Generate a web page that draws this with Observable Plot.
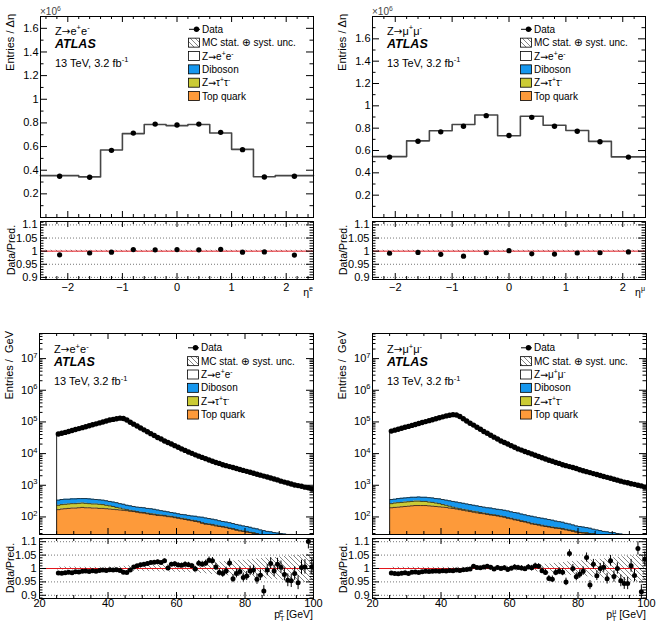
<!DOCTYPE html>
<html>
<head>
<meta charset="utf-8">
<script src="https://cdn.jsdelivr.net/npm/d3@7"></script>
<script src="https://cdn.jsdelivr.net/npm/@observablehq/plot@0.6"></script>
<style>
  html, body { margin: 0; padding: 0; background: #fff; overflow: hidden; }
  #chart { position: relative; width: 660px; height: 633px; overflow: hidden; }
  #chart > div { position: absolute; line-height: 0; }
  #chart svg { overflow: visible; }
</style>
</head>
<body>
<svg width="0" height="0" style="position:absolute">
  <defs>
    <pattern id="hatch" patternUnits="userSpaceOnUse" width="5" height="5">
      <path d="M-1,-1 L6,6 M-1,4 L1,6 M4,-1 L6,1" stroke="#333" stroke-width="0.6" fill="none"/>
    </pattern>
  </defs>
</svg>
<div id="chart"></div>
<script>
// ---------- electron / muon pseudorapidity (entries per unit eta, in 10^6) ----------
const etaEdgesE  = [-2.5, -1.8, -1.4, -1.0, -0.6, -0.2, 0.2, 0.6, 1.0, 1.4, 1.8, 2.5];
const etaDataE   = [0.349, 0.341, 0.568, 0.714, 0.790, 0.782, 0.790, 0.720, 0.574, 0.343, 0.349];
const etaRatioE  = [0.986, 0.993, 0.996, 1.006, 1.005, 1.006, 1.005, 1.007, 0.996, 0.997, 0.985];
const etaUncE    = [0.003, 0.003, 0.003, 0.003, 0.003, 0.003, 0.003, 0.003, 0.003, 0.003, 0.003];

const etaEdgesMu = [-2.4, -1.8, -1.4, -1.0, -0.6, -0.2, 0.2, 0.6, 1.0, 1.4, 1.8, 2.4];
const etaDataMu  = [0.541, 0.683, 0.767, 0.817, 0.912, 0.734, 0.897, 0.817, 0.773, 0.678, 0.541];
const etaRatioMu = [0.992, 0.995, 0.988, 0.981, 0.994, 1.002, 0.990, 0.989, 0.993, 0.994, 0.997];
const etaUncMu   = [0.003, 0.003, 0.003, 0.003, 0.003, 0.003, 0.003, 0.003, 0.003, 0.003, 0.003];

// ---------- lepton transverse momentum, 1 GeV bins from 25 to 100 GeV ----------
const ptEdges = d3.range(25, 101);

const ptDataE = [41700, 43700, 46800, 50100, 53700, 57500, 61700, 66100, 70800, 75900,
  81300, 87100, 93300, 100000, 107200, 114800, 120200, 125900, 131800, 128800,
  114800, 97700, 85100, 74100, 64600, 56200, 49000, 42700, 37200, 32400,
  28800, 25100, 22400, 20000, 17800, 15800, 14100, 12600, 11200, 10200,
  9120, 8320, 7590, 6920, 6310, 5750, 5250, 4900, 4470, 4170,
  3890, 3630, 3390, 3160, 2950, 2750, 2570, 2400, 2240, 2090,
  1950, 1820, 1700, 1585, 1480, 1350, 1260, 1175, 1100, 1020,
  977, 933, 871, 832, 759];
const ptTopE = [170, 178, 182, 186, 191, 191, 195, 200, 195, 195,
  191, 191, 186, 186, 182, 178, 174, 170, 166, 162,
  158, 151, 148, 141, 135, 132, 126, 120, 117, 112,
  110, 107, 102, 100, 95, 91, 87, 83, 79, 76,
  72, 69, 63, 59, 58, 55, 52, 50, 48, 46,
  43, 41, 38, 36, 35, 33, 32, 30, 29, 27,
  25, 24, 23, 22, 21, 20, 19, 18, 17, 17,
  16, 15, 14, 14, 13];
const ptZttE = [64, 67, 69, 71, 72, 72, 74, 75, 74, 68,
  66, 66, 65, 59, 52, 46, 40, 30, 25, 16,
  12, 11, 7, 7, 6, 6, 6, 6, 6, 5,
  5, 5, 5, 5, 5, 4, 4, 4, 4, 3,
  4, 3, 3, 3, 2, 3, 3, 2, 2, 2,
  2, 2, 2, 2, 1, 2, 1, 2, 1, 1,
  1, 1, 1, 1, 1, 1, 1, 1, 1, 0.5,
  1, 1, 1, 0.5, 1];
const ptDibE = [105, 110, 112, 106, 109, 109, 111, 105, 111, 109,
  106, 98, 96, 94, 90, 85, 81, 82, 72, 73,
  64, 62, 59, 56, 59, 57, 54, 56, 51, 49,
  43, 39, 38, 33, 32, 31, 29, 30, 29, 28,
  29, 28, 32, 31, 29, 27, 26, 24, 22, 21,
  21, 19, 18, 17, 16, 15, 14, 12, 12, 11,
  11, 10, 10, 9, 9, 9, 9, 9, 10, 9,
  8, 8, 8, 7.5, 7];
const ptRatioE = [0.983, 0.982, 0.984, 0.986, 0.984, 0.988, 0.987, 0.990, 0.991, 0.989,
  0.992, 0.990, 0.993, 0.994, 0.993, 0.995, 0.994, 0.995, 0.993, 0.986,
  0.985, 0.994, 1.006, 1.010, 1.014, 1.016, 1.019, 1.022, 1.023, 1.025,
  1.022, 1.029, 1.002, 1.016, 1.018, 1.013, 1.012, 1.016, 1.014, 1.010,
  0.998, 1.020, 1.016, 1.020, 1.031, 1.029, 1.006, 0.985, 0.981, 0.991,
  1.021, 0.962, 0.981, 0.989, 0.966, 0.972, 0.991, 0.994, 0.960, 0.975,
  0.916, 0.994, 1.019, 0.991, 1.016, 1.005, 0.978, 0.956, 0.954, 0.981,
  0.947, 1.004, 1.006, 1.101, 1.006];
const ptErrE = [0.005, 0.005, 0.005, 0.004, 0.004, 0.004, 0.004, 0.004, 0.004, 0.003,
  0.003, 0.003, 0.003, 0.003, 0.003, 0.003, 0.003, 0.003, 0.003, 0.003,
  0.003, 0.004, 0.004, 0.004, 0.004, 0.005, 0.005, 0.005, 0.005, 0.006,
  0.006, 0.006, 0.007, 0.007, 0.007, 0.008, 0.008, 0.009, 0.009, 0.009,
  0.010, 0.010, 0.011, 0.011, 0.012, 0.012, 0.013, 0.013, 0.014, 0.014,
  0.015, 0.015, 0.016, 0.016, 0.017, 0.017, 0.018, 0.018, 0.019, 0.020,
  0.020, 0.021, 0.021, 0.022, 0.022, 0.023, 0.024, 0.024, 0.025, 0.025,
  0.026, 0.027, 0.027, 0.028, 0.029];
const ptUncE = [0.006, 0.006, 0.006, 0.006, 0.006, 0.006, 0.005, 0.005, 0.005, 0.005,
  0.005, 0.005, 0.005, 0.005, 0.005, 0.006, 0.006, 0.006, 0.007, 0.008,
  0.010, 0.010, 0.011, 0.011, 0.011, 0.012, 0.012, 0.012, 0.012, 0.013,
  0.013, 0.013, 0.014, 0.014, 0.014, 0.015, 0.015, 0.015, 0.016, 0.016,
  0.017, 0.018, 0.019, 0.020, 0.021, 0.022, 0.023, 0.024, 0.025, 0.026,
  0.027, 0.028, 0.029, 0.030, 0.031, 0.032, 0.034, 0.035, 0.036, 0.037,
  0.038, 0.039, 0.040, 0.041, 0.042, 0.044, 0.045, 0.046, 0.047, 0.048,
  0.049, 0.050, 0.052, 0.053, 0.055];

const ptDataMu = [51300, 55000, 58900, 63100, 67600, 72400, 77600, 83200, 89100, 95500,
  102300, 109600, 117500, 125900, 134900, 144500, 154900, 162200, 169800, 166000,
  147900, 125900, 107200, 91200, 79400, 67600, 58900, 50100, 43700, 38000,
  33100, 28800, 25100, 22400, 20000, 17800, 15800, 14100, 12900, 11700,
  10700, 9770, 8910, 8130, 7410, 6760, 6170, 5750, 5250, 4900,
  4470, 4170, 3890, 3630, 3390, 3090, 2880, 2690, 2510, 2340,
  2190, 2040, 1900, 1780, 1660, 1550, 1450, 1350, 1260, 1200,
  1120, 1070, 1000, 955, 871];
const ptTopMu = [195, 200, 204, 209, 214, 219, 224, 229, 229, 229,
  229, 224, 219, 214, 209, 204, 200, 191, 186, 178,
  170, 162, 155, 148, 141, 135, 129, 126, 120, 115,
  112, 107, 102, 98, 91, 87, 81, 78, 72, 69,
  65, 60, 58, 55, 52, 50, 48, 46, 44, 43,
  41, 39, 37, 35, 33, 32, 31, 30, 29, 28,
  27, 26, 25, 24, 23, 22, 21, 20, 19, 18,
  17, 17, 16, 15, 15];
const ptZttMu = [68, 75, 78, 79, 81, 83, 85, 87, 87, 80,
  80, 71, 69, 61, 54, 41, 34, 28, 18, 13,
  12, 12, 11, 10, 10, 10, 9, 6, 6, 5,
  5, 5, 5, 4, 4, 4, 4, 3, 4, 3,
  3, 3, 2, 3, 3, 2, 2, 2, 2, 2,
  2, 2, 2, 2, 2, 1, 1, 2, 1, 2,
  1, 1, 1, 1, 1, 1, 1, 1, 1, 1,
  1, 1, 1, 1, 0.5];
const ptDibMu = [92, 88, 98, 101, 103, 105, 108, 101, 111, 108,
  108, 112, 110, 105, 109, 110, 105, 105, 105, 104,
  100, 95, 91, 87, 83, 79, 76, 72, 69, 71,
  65, 62, 63, 60, 60, 54, 53, 51, 47, 45,
  42, 42, 40, 37, 36, 35, 33, 31, 28, 26,
  25, 22, 21, 19, 17, 17, 16, 14, 14, 11,
  11, 10, 9, 9, 8, 9, 8, 8, 8, 7,
  7, 6, 6, 6, 5.5];
const ptRatioMu = [0.983, 0.981, 0.980, 0.982, 0.984, 0.981, 0.986, 0.987, 0.985, 0.988,
  0.990, 0.989, 0.990, 0.991, 0.990, 0.992, 0.991, 0.993, 0.992, 0.994,
  0.993, 0.995, 0.996, 0.998, 1.008, 1.004, 1.003, 1.006, 1.008, 1.005,
  0.998, 1.004, 1.000, 1.003, 0.996, 1.001, 1.006, 1.004, 1.002, 0.999,
  1.006, 1.003, 1.010, 1.008, 0.992, 0.985, 0.963, 0.960, 0.985, 0.990,
  0.986, 0.950, 1.056, 1.000, 0.969, 0.979, 0.990, 1.041, 0.938, 1.016,
  0.973, 1.000, 1.005, 0.962, 1.029, 0.970, 1.000, 0.954, 0.944, 0.944,
  1.010, 0.974, 1.075, 0.913, 1.035];
const ptErrMu = [0.004, 0.004, 0.004, 0.004, 0.004, 0.003, 0.003, 0.003, 0.003, 0.003,
  0.003, 0.003, 0.003, 0.003, 0.003, 0.003, 0.003, 0.003, 0.003, 0.003,
  0.003, 0.003, 0.003, 0.004, 0.004, 0.004, 0.004, 0.005, 0.005, 0.005,
  0.006, 0.006, 0.006, 0.007, 0.007, 0.007, 0.008, 0.008, 0.008, 0.009,
  0.009, 0.009, 0.010, 0.010, 0.011, 0.011, 0.011, 0.012, 0.012, 0.013,
  0.013, 0.014, 0.014, 0.015, 0.015, 0.016, 0.016, 0.017, 0.017, 0.018,
  0.018, 0.019, 0.019, 0.020, 0.020, 0.021, 0.021, 0.022, 0.022, 0.023,
  0.024, 0.024, 0.025, 0.026, 0.027];
const ptUncMu = [0.005, 0.005, 0.005, 0.005, 0.005, 0.005, 0.005, 0.005, 0.005, 0.005,
  0.005, 0.005, 0.005, 0.005, 0.005, 0.005, 0.005, 0.005, 0.005, 0.005,
  0.005, 0.005, 0.006, 0.006, 0.006, 0.006, 0.006, 0.007, 0.007, 0.007,
  0.007, 0.007, 0.008, 0.008, 0.008, 0.008, 0.009, 0.009, 0.009, 0.010,
  0.010, 0.011, 0.012, 0.013, 0.014, 0.016, 0.017, 0.018, 0.020, 0.021,
  0.022, 0.024, 0.025, 0.026, 0.027, 0.028, 0.029, 0.031, 0.032, 0.033,
  0.034, 0.035, 0.036, 0.038, 0.039, 0.040, 0.042, 0.043, 0.044, 0.046,
  0.047, 0.048, 0.050, 0.051, 0.052];

// ---------- axis ticks ----------
const etaXTicks = [-2, -1, 0, 1, 2];
const etaYTicks = [0.2, 0.4, 0.6, 0.8, 1, 1.2, 1.4, 1.6];
const ptXTicks = [20, 40, 60, 80, 100];
const logYTicks = [1e2, 1e3, 1e4, 1e5, 1e6, 1e7];
const ratioTicks = [0.9, 0.95, 1, 1.05, 1.1];

// ---------- style ----------
const FONT = '"Liberation Sans", Arial, Helvetica, sans-serif';
const SYM = '"DejaVu Sans", sans-serif';
const C_TOP = "#fd9a3a", C_ZTT = "#cbcb35", C_DIB = "#1697ee";
const chart = document.getElementById("chart");

// superscript / subscript text helper
function rich(text, parts, size) {
  let cur = 0;
  for (const p of parts) {
    const o = typeof p === "string" ? {t: p} : p;
    const off = o.sup ? -0.4 * size : o.sub ? 0.3 * size : 0;
    const ts = text.append("tspan").text(o.t).attr("dy", (off - cur).toFixed(2));
    if (o.sup || o.sub) ts.attr("font-size", (0.68 * size).toFixed(1));
    if (o.dx) ts.attr("dx", o.dx);
    if (o.font) ts.attr("font-family", o.font).attr("font-size", (o.scale || 1) * size);
    cur = off;
  }
  return text;
}

function place(node, x, y) {
  const div = document.createElement("div");
  div.style.left = x + "px";
  div.style.top = y + "px";
  div.appendChild(node);
  chart.appendChild(div);
}

// per-bin values -> points at each lower edge plus a closing point, for step curves
function stepSeries(edges, rows) {
  const out = rows.map((r, i) => ({...r, x: edges[i]}));
  out.push({...rows[rows.length - 1], x: edges[edges.length - 1]});
  return out;
}

function inRange(vals, dom) {
  const lo = Math.min(...dom), hi = Math.max(...dom);
  return vals.filter(v => v > lo + 1e-9 && v < hi - 1e-9);
}

// inward ticks on all four sides of the frame
function edgeTicks({xMajor, xMinor, yMajor, yMinor, iw, ih}) {
  const s = {stroke: "black", strokeWidth: 1};
  return [
    Plot.tickX(xMajor, {x: d => d, insetTop: ih - 6, ...s}),
    Plot.tickX(xMajor, {x: d => d, insetBottom: ih - 6, ...s}),
    Plot.tickX(xMinor, {x: d => d, insetTop: ih - 3, ...s}),
    Plot.tickX(xMinor, {x: d => d, insetBottom: ih - 3, ...s}),
    Plot.tickY(yMajor, {y: d => d, insetRight: iw - 7, ...s}),
    Plot.tickY(yMajor, {y: d => d, insetLeft: iw - 7, ...s}),
    Plot.tickY(yMinor, {y: d => d, insetRight: iw - 3.5, ...s}),
    Plot.tickY(yMinor, {y: d => d, insetLeft: iw - 3.5, ...s})
  ];
}

const ARROW = {t: "\u2192", font: SYM, scale: 0.95};
const chanE = ["Z", ARROW, "e", {t: "+", sup: 1}, "e", {t: "-", sup: 1}];
const chanMu = ["Z", ARROW, "\u03bc", {t: "+", sup: 1}, "\u03bc", {t: "-", sup: 1}];
const chanTau = ["Z", ARROW, "\u03c4", {t: "+", sup: 1}, "\u03c4", {t: "-", sup: 1}];
const lumiText = ["13 TeV, 3.2 fb", {t: "-1", sup: 1}];
const uncText = ["MC stat. ", {t: "\u2295", font: SYM, scale: 1.05}, " syst. unc."];

const panels = [
  {kind: "eta", left: 40, right: 313, mainTop: 16, mainBottom: 217, ratioTop: 221, ratioBottom: 279,
   edges: etaEdgesE, data: etaDataE, ratio: etaRatioE, unc: etaUncE,
   xDomain: [-2.5, 2.5], yDomain: [0, 1.7], ratioDomain: [0.892, 1.113],
   channel: chanE, zLabel: chanE, yTitle: "Entries / \u0394\u03b7",
   xTitle: ["\u03b7", {t: "e", sup: 1}], shift: 0},
  {kind: "eta", left: 372, right: 645, mainTop: 16, mainBottom: 217, ratioTop: 221, ratioBottom: 279,
   edges: etaEdgesMu, data: etaDataMu, ratio: etaRatioMu, unc: etaUncMu,
   xDomain: [-2.4, 2.4], yDomain: [0, 1.8], ratioDomain: [0.892, 1.113],
   channel: chanMu, zLabel: chanE, yTitle: "Entries / \u0394\u03b7",
   xTitle: ["\u03b7", {t: "\u03bc", sup: 1}], shift: 0},
  {kind: "pt", left: 39, right: 313, mainTop: 333, mainBottom: 534, ratioTop: 538, ratioBottom: 598,
   edges: ptEdges, data: ptDataE, ratio: ptRatioE, err: ptErrE, unc: ptUncE,
   top: ptTopE, ztt: ptZttE, dib: ptDibE,
   xDomain: [20, 100], yDomain: [27.9, 6.2e7], ratioDomain: [0.888, 1.112],
   channel: chanE, zLabel: chanE, yTitle: "Entries /  GeV",
   xTitle: ["p", {t: "T", sub: 1}, {t: "e", sup: 1, dx: -4.3}, " [GeV]"], shift: 1.5},
  {kind: "pt", left: 372, right: 646, mainTop: 333, mainBottom: 534, ratioTop: 538, ratioBottom: 598,
   edges: ptEdges, data: ptDataMu, ratio: ptRatioMu, err: ptErrMu, unc: ptUncMu,
   top: ptTopMu, ztt: ptZttMu, dib: ptDibMu,
   xDomain: [20, 100], yDomain: [27.9, 6.2e7], ratioDomain: [0.888, 1.112],
   channel: chanMu, zLabel: chanMu, yTitle: "Entries /  GeV",
   xTitle: ["p", {t: "T", sub: 1}, {t: "\u03bc", sup: 1, dx: -4.3}, " [GeV]"], shift: 1.5}
];

function mainPlot(p) {
  const mL = 40, mR = 14, mT = 18, mB = 2;
  const iw = p.right - p.left, ih = p.mainBottom - p.mainTop;
  const centers = p.data.map((_, i) => (p.edges[i] + p.edges[i + 1]) / 2);
  const mc = p.data.map((d, i) => d / p.ratio[i]);
  const pts = p.data.map((d, i) => ({x: centers[i], y: d}));
  const marks = [];
  let xMajor, xMinor, yMajor, yMinor;

  if (p.kind === "pt") {
    const levels = p.top.map((t, i) => {
      const a = t, b = t + p.ztt[i], c = b + p.dib[i];
      return {top: a, ztt: b, dib: c, mc: mc[i]};
    });
    const st = stepSeries(p.edges, levels);
    const outline = [{x: p.edges[0], mc: 1}, ...st];
    const line = {x: "x", curve: "step-after", stroke: "#1c1c1c", strokeWidth: 0.8, clip: true};
    marks.push(
      Plot.areaY(st, {x: "x", y1: () => 1, y2: "top", curve: "step-after", fill: C_TOP, clip: true}),
      Plot.areaY(st, {x: "x", y1: "top", y2: "ztt", curve: "step-after", fill: C_ZTT, clip: true}),
      Plot.areaY(st, {x: "x", y1: "ztt", y2: "dib", curve: "step-after", fill: C_DIB, clip: true}),
      Plot.lineY(st, {...line, y: "top"}),
      Plot.lineY(st, {...line, y: "ztt"}),
      Plot.lineY(st, {...line, y: "dib"}),
      Plot.lineY(outline, {x: "x", y: "mc", curve: "step-after", stroke: "#222", strokeWidth: 1, clip: true})
    );
    xMajor = ptXTicks;
    xMinor = inRange(d3.range(20, 101, 5).filter(v => v % 20 !== 0), p.xDomain);
    yMajor = logYTicks;
    yMinor = inRange(d3.range(1, 8).flatMap(k => d3.range(2, 10).map(m => m * 10 ** k)), p.yDomain);
  } else {
    const st = stepSeries(p.edges, mc.map(v => ({mc: v})));
    marks.push(Plot.lineY(st, {x: "x", y: "mc", curve: "step-after", stroke: "#464646", strokeWidth: 1.6}));
    xMajor = etaXTicks;
    xMinor = inRange(d3.range(-24, 25, 2).map(v => v / 10).filter(v => Math.abs(v % 1) > 1e-9), p.xDomain);
    yMajor = etaYTicks;
    yMinor = inRange(d3.range(1, 18, 2).map(v => v / 10), p.yDomain);
  }
  marks.push(Plot.dot(pts, {x: "x", y: "y", r: 2.7, fill: "black", stroke: "none", clip: true}));
  marks.push(...edgeTicks({xMajor, xMinor, yMajor, yMinor, iw, ih}));
  marks.push(Plot.axisY({
    ticks: yMajor, tickSize: 0, tickPadding: 2, label: null,
    tickFormat: p.kind === "pt" ? d => "10^" + Math.round(Math.log10(d)) : d => String(d)
  }));
  marks.push(Plot.frame({stroke: "black", strokeWidth: 1}));

  const svg = Plot.plot({
    width: iw + mL + mR, height: ih + mT + mB,
    marginLeft: mL, marginRight: mR, marginTop: mT, marginBottom: mB,
    x: {domain: p.xDomain, axis: null},
    y: {domain: p.yDomain, type: p.kind === "pt" ? "log" : "linear"},
    style: {fontFamily: FONT, fontSize: "11px", background: "transparent", color: "black"},
    marks
  });

  const g = d3.select(svg).append("g").attr("font-family", FONT).attr("fill", "black")
    .attr("text-anchor", "start");
  // log axis labels as 10 with a raised exponent
  d3.select(svg).selectAll("text").filter(function () { return this.textContent.startsWith("10^"); })
    .each(function () {
      const s = this.textContent.slice(3);
      const t = d3.select(this);
      t.text(null);
      rich(t, ["10", {t: s, sup: 1}], 11);
    });

  const ox = mL, oy = mT, sh = p.shift;
  if (p.kind === "eta") {
    rich(g.append("text").attr("x", ox).attr("y", oy - 1.5).attr("font-size", 10).attr("fill", "#444"),
      ["\u00d710", {t: "6", sup: 1}], 10);
  }
  rich(g.append("text").attr("x", ox + 15).attr("y", oy + 18.7 + sh).attr("font-size", 11), p.channel, 11);
  g.append("text").attr("x", ox + 15).attr("y", oy + 31.7 + sh).attr("font-size", 12.5)
    .attr("font-weight", "bold").attr("font-style", "italic").text("ATLAS");
  rich(g.append("text").attr("x", ox + 15).attr("y", oy + 50.7 + sh).attr("font-size", 11), lumiText, 11);

  g.append("text").attr("transform", `translate(${ox - 26.5},${oy - 2}) rotate(-90)`)
    .attr("text-anchor", "end").attr("font-size", 11).style("white-space", "pre").text(p.yTitle);

  // legend
  const rows = [
    {kind: "data", label: ["Data"]},
    {kind: "box", fill: "url(#hatch)", label: uncText},
    {kind: "box", fill: "white", label: p.zLabel},
    {kind: "box", fill: C_DIB, label: ["Diboson"]},
    {kind: "box", fill: C_ZTT, label: chanTau},
    {kind: "box", fill: C_TOP, label: ["Top quark"]}
  ];
  rows.forEach((r, i) => {
    const cy = oy + 13.3 + sh + 13.35 * i;
    if (r.kind === "data") {
      g.append("line").attr("x1", ox + 149).attr("x2", ox + 160).attr("y1", cy).attr("y2", cy)
        .attr("stroke", "black").attr("stroke-width", 1);
      g.append("circle").attr("cx", ox + 156.5).attr("cy", cy).attr("r", 2.7).attr("fill", "black");
    } else {
      g.append("rect").attr("x", ox + 148.5).attr("y", cy - 4.5).attr("width", 11).attr("height", 9)
        .attr("fill", r.fill).attr("stroke", "black").attr("stroke-width", 0.8);
    }
    rich(g.append("text").attr("x", ox + 162).attr("y", cy + 3.6).attr("font-size", 10), r.label, 10);
  });

  place(svg, p.left - mL, p.mainTop - mT);
  return pts;
}

function ratioPlot(p) {
  const mL = 40, mR = 14, mT = 2, mB = 28;
  const iw = p.right - p.left, ih = p.ratioBottom - p.ratioTop;
  const centers = p.data.map((_, i) => (p.edges[i] + p.edges[i + 1]) / 2);
  const pts = p.ratio.map((r, i) => ({x: centers[i], r, e: p.err ? p.err[i] : 0}));
  const band = stepSeries(p.edges, p.unc.map(u => ({u})));
  const isPt = p.kind === "pt";

  const xMajor = isPt ? ptXTicks : etaXTicks;
  const xMinor = isPt
    ? inRange(d3.range(20, 101, 5).filter(v => v % 20 !== 0), p.xDomain)
    : inRange(d3.range(-24, 25, 2).map(v => v / 10).filter(v => Math.abs(v % 1) > 1e-9), p.xDomain);
  const yMinor = inRange(d3.range(89, 112).map(v => v / 100).filter(v => !ratioTicks.includes(v)), p.ratioDomain);

  const marks = [
    Plot.ruleY([0.9, 0.95, 1.05, 1.1], {stroke: "#666", strokeWidth: 0.9, strokeDasharray: "1,2"}),
    Plot.areaY(band, {x: "x", y1: d => 1 - d.u, y2: d => 1 + d.u, curve: "step-after", fill: "url(#hatch)", clip: true}),
    Plot.ruleY([1], {stroke: "#e3161c", strokeWidth: 1})
  ];
  if (p.err) {
    marks.push(Plot.ruleX(pts, {x: "x", y1: d => d.r - d.e, y2: d => d.r + d.e, stroke: "black", strokeWidth: 1, clip: true}));
  }
  marks.push(
    Plot.dot(pts, {x: "x", y: "r", r: isPt ? 2.5 : 2.6, fill: "black", stroke: "none", clip: true}),
    ...edgeTicks({xMajor, xMinor, yMajor: ratioTicks, yMinor, iw, ih}),
    Plot.axisX({ticks: xMajor, tickSize: 0, tickPadding: isPt ? 0.5 : 4, label: null,
      tickFormat: isPt ? d => String(d) : d => (d < 0 ? "\u2212" + Math.abs(d) : String(d))}),
    Plot.axisY({ticks: ratioTicks, tickSize: 0, tickPadding: 3, label: null, tickFormat: d => String(d)}),
    Plot.frame({stroke: "black", strokeWidth: 1})
  );

  const svg = Plot.plot({
    width: iw + mL + mR, height: ih + mT + mB,
    marginLeft: mL, marginRight: mR, marginTop: mT, marginBottom: mB,
    x: {domain: p.xDomain},
    y: {domain: p.ratioDomain},
    style: {fontFamily: FONT, fontSize: "11px", background: "transparent", color: "black"},
    marks
  });

  const g = d3.select(svg).append("g").attr("font-family", FONT).attr("fill", "black")
    .attr("text-anchor", "start");
  g.append("text").attr("transform", `translate(${mL - 25.5},${mT + ih / 2}) rotate(-90)`)
    .attr("text-anchor", "middle").attr("font-size", 10.5).text("Data/Pred.");
  rich(g.append("text").attr("x", mL + iw).attr("y", mT + ih + (isPt ? 20 : 16.5))
    .attr("text-anchor", "end").attr("font-size", 10.5), p.xTitle, 10.5);

  place(svg, p.left - mL, p.ratioTop - mT);
}

panels.forEach(p => { mainPlot(p); ratioPlot(p); });
</script>
</body>
</html>
